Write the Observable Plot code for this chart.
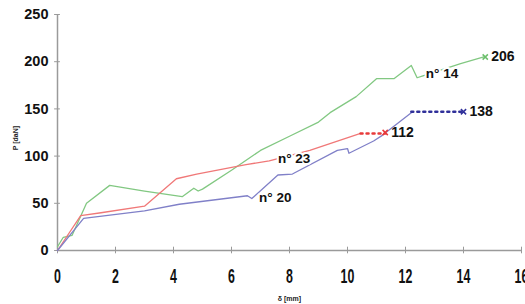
<!DOCTYPE html>
<html>
<head>
<meta charset="utf-8">
<script src="https://cdn.jsdelivr.net/npm/d3@7"></script>
<script src="https://cdn.jsdelivr.net/npm/@observablehq/plot@0.6"></script>
<style>
  html, body { margin: 0; padding: 0; background: #fff; }
  svg { display: block; }
</style>
</head>
<body>
<div id="chart"></div>
<script>
// ---- data ----
const xTicks = [0, 2, 4, 6, 8, 10, 12, 14, 16];
const yTicks = [0, 50, 100, 150, 200, 250];

// n° 14 (green)
const g14x = [0, 0.2, 0.5, 1.0, 1.8, 3.0, 4.3, 4.7, 4.85, 5.0, 6.0, 7.0, 8.0, 9.0, 9.4, 10.3, 11.0, 11.6, 12.2, 12.4, 12.6, 13.9, 14.7];
const g14y = [4, 14, 16, 50, 69, 63, 57, 66, 63, 65, 85, 106, 121, 136, 146, 163, 182, 182, 196, 183, 185, 198, 205];

// n° 23 (red)
const r23x = [0, 0.8, 1.5, 3.0, 4.1, 4.8, 6.5, 7.3, 8.7, 10.45];
const r23y = [0, 37, 40, 47, 76, 81, 91, 95, 106, 124];
const r23extX = [10.45, 11.3];
const r23extY = [124, 124];

// n° 20 (blue)
const b20x = [0, 0.9, 3.0, 4.2, 6.55, 6.7, 7.6, 8.1, 9.65, 10.0, 10.05, 10.9, 11.2, 12.2];
const b20y = [0, 34, 42, 49, 58, 55, 80, 81, 106, 108, 103, 116, 122, 146];
const b20extX = [12.2, 14.0];
const b20extY = [147, 147];

// end markers and end values
const endX = [14.75, 11.3, 14.0];
const endY = [205, 125, 147];
const endLabels = ["206", "112", "138"];

// series names
const seriesNames = ["n° 14", "n° 23", "n° 20"];
const seriesLabelX = [12.7, 7.6, 6.95];
const seriesLabelY = [187, 97, 56];

const lineColors = ["#82c882", "#f07878", "#8080c8"];
const endColors = ["#6cbf6c", "#e83a3a", "#30309a"];

// ---- build tables ----
const toRows = (xs, ys) => xs.map((x, i) => ({ x, y: ys[i] }));
const green = toRows(g14x, g14y);
const red = toRows(r23x, r23y);
const blue = toRows(b20x, b20y);
const redExt = toRows(r23extX, r23extY);
const blueExt = toRows(b20extX, b20extY);
const ends = endX.map((x, i) => ({ x, y: endY[i], label: endLabels[i], c: endColors[i] }));
const names = seriesNames.map((t, i) => ({ t, x: seriesLabelX[i], y: seriesLabelY[i] }));

const font = "'Liberation Sans', Arial, sans-serif";

const chart = Plot.plot({
  width: 525,
  height: 304,
  marginLeft: 57,
  marginRight: 4,
  marginTop: 14,
  marginBottom: 54,
  style: { fontFamily: font, background: "#fff", overflow: "visible" },
  x: { domain: [0, 16], axis: null },
  y: { domain: [0, 250], axis: null },
  marks: [
    // axes
    Plot.ruleX([0], { y1: 0, y2: 250, stroke: "#9a9a9a", strokeWidth: 1.5 }),
    Plot.ruleY([0], { x1: 0, x2: 16, stroke: "#9a9a9a", strokeWidth: 1.5 }),
    Plot.ruleX(xTicks, { x: d => d, y1: -3.5, y2: 3.5, stroke: "#9a9a9a" }),
    Plot.ruleY(yTicks, { y: d => d, x1: -0.1, x2: 0.1, stroke: "#9a9a9a" }),
    Plot.text(yTicks, { x: 0, y: d => d, text: d => String(d), dx: -9, textAnchor: "end", fontSize: 14.5, fontWeight: "bold", fill: "#111" }),
    Plot.text(xTicks, { x: d => d, y: 0, text: d => String(d), dy: 26, fontSize: 20, fontWeight: "bold", fill: "#111" }),
    Plot.text(["δ [mm]"], { x: 8, y: 0, dy: 48, fontSize: 7, fontWeight: "bold", fill: "#222" }),
    Plot.text(["P [daN]"], { x: 0, y: 119, dx: -42, rotate: -90, fontSize: 7, fontWeight: "bold", fill: "#222" }),
    // series
    Plot.line(green, { x: "x", y: "y", stroke: lineColors[0], strokeWidth: 1.3 }),
    Plot.line(red, { x: "x", y: "y", stroke: lineColors[1], strokeWidth: 1.3 }),
    Plot.line(blue, { x: "x", y: "y", stroke: lineColors[2], strokeWidth: 1.3 }),
    Plot.line(redExt, { x: "x", y: "y", stroke: endColors[1], strokeWidth: 2.5, strokeDasharray: "2,4" }),
    Plot.line(blueExt, { x: "x", y: "y", stroke: endColors[2], strokeWidth: 2.5, strokeDasharray: "2,4" }),
    Plot.dot(ends, { x: "x", y: "y", symbol: "times", r: 2.5, stroke: "c", strokeWidth: 1.5 }),
    // labels
    Plot.text(names, { x: "x", y: "y", text: "t", textAnchor: "start", fontSize: 13.5, fontWeight: "bold", fill: "#111", stroke: "white", strokeWidth: 4 }),
    Plot.text(ends, { x: "x", y: "y", text: "label", textAnchor: "start", dx: 6, fontSize: 14, fontWeight: "bold", fill: "#111" })
  ]
});

// condense the x tick labels horizontally (tall, narrow digits as in the reference)
d3.select(chart).selectAll("g[font-size='20'] text").each(function () {
  const t = d3.select(this);
  const tr = t.attr("transform");
  if (tr) {
    t.attr("transform", tr + " scale(0.62,1)");
  } else {
    const x = +t.attr("x") || 0;
    t.attr("transform", `translate(${x},0) scale(0.62,1) translate(${-x},0)`);
  }
});

document.getElementById("chart").appendChild(chart);
</script>
</body>
</html>
